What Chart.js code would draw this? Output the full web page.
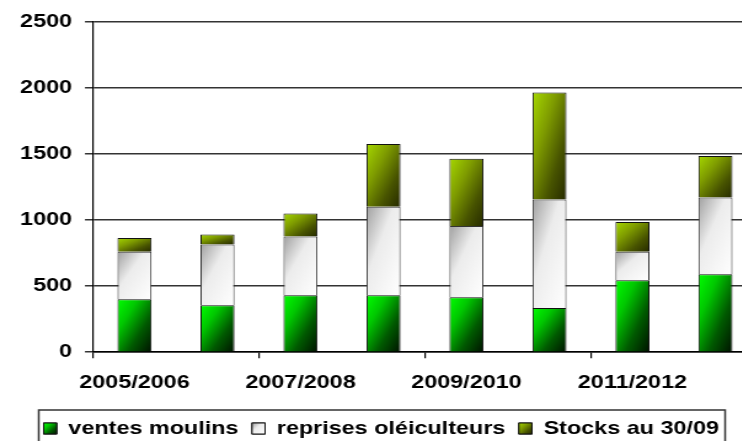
<!DOCTYPE html>
<html>
<head>
<meta charset="utf-8">
<script src="https://cdn.jsdelivr.net/npm/chart.js@4.4.1/dist/chart.umd.min.js"></script>
<style>
  html, body { margin: 0; padding: 0; background: #fff; overflow: hidden; width: 742px; height: 441px; }
  /* the source picture is stretched sideways, so the whole chart is too */
  #wrap { width: 632px; height: 448px; transform: scaleX(1.23); transform-origin: 0 0; }
</style>
</head>
<body>
<div id="wrap"><canvas id="stockChart" width="632" height="448"></canvas></div>
<script>
// campaigns
const categories = ['2005/2006', '2006/2007', '2007/2008', '2008/2009', '2009/2010', '2010/2011', '2011/2012', '2012/2013'];
// series (stacked, bottom to top)
const ventesMoulins = [400, 355, 430, 430, 415, 335, 545, 590];
const reprisesOleiculteurs = [360, 460, 445, 670, 540, 820, 215, 580];
const stocks3009 = [105, 75, 175, 475, 510, 810, 225, 315];
const yTicks = [0, 500, 1000, 1500, 2000, 2500];

const series = [ventesMoulins, reprisesOleiculteurs, stocks3009];
const BAR_PCT = 0.41;
const FONT = { family: 'Liberation Sans', size: 19, weight: 'bold' };

const greenStops = [[0, '#00ff00'], [0.3, '#00c800'], [0.65, '#005a00'], [1, '#001200']];
const whiteStops = [[0, '#a0a0a0'], [0.4, '#ececec'], [1, '#ffffff']];
const oliveStops = [[0, '#a6d800'], [0.35, '#7f9c00'], [0.7, '#485400'], [1, '#262a00']];

function makeGradient(c, left, top, w, h, stops) {
  // diagonal gradient, corner to corner like the office fill
  const t = 2 * w * h / (h * h + w * w);
  const g = c.createLinearGradient(left, top, left + t * h, top + t * w);
  stops.forEach(s => g.addColorStop(s[0], s[1]));
  return g;
}

function barFill(stops, fallback) {
  return function (ctx) {
    const chart = ctx.chart;
    const xs = chart.scales.x, ys = chart.scales.y;
    if (ctx.type !== 'data' || !chart.chartArea || !xs || !ys) return fallback;
    const i = ctx.dataIndex, d = ctx.datasetIndex;
    let base = 0;
    for (let k = 0; k < d; k++) base += series[k][i];
    const top = base + series[d][i];
    const w = xs.width / categories.length * BAR_PCT;
    const left = xs.getPixelForValue(i) - w / 2;
    const yt = ys.getPixelForValue(top), yb = ys.getPixelForValue(base);
    const h = yb - yt;
    if (![left, w, yt, h].every(Number.isFinite) || h <= 0 || w <= 0) return fallback;
    return makeGradient(chart.ctx, left, yt, w, h, stops);
  };
}

// frame around the legend + gradient legend squares
const legendFrame = {
  id: 'legendFrame',
  afterDraw(chart) {
    const lg = chart.legend;
    if (!lg || !lg.legendHitBoxes.length) return;
    const c = chart.ctx;
    const hb = lg.legendHitBoxes;
    const l = Math.min(...hb.map(b => b.left)) - 4;
    const r = Math.max(...hb.map(b => b.left + b.width)) + 5;
    const t = hb[0].top - 9;
    c.save();
    c.strokeStyle = '#333';
    c.lineWidth = 1.5;
    c.strokeRect(l, t, r - l, chart.height + 10 - t);
    const allStops = [greenStops, whiteStops, oliveStops];
    const bw = lg.options.labels.boxWidth, bh = lg.options.labels.boxHeight;
    hb.forEach((b, k) => {
      const y0 = b.top + (b.height - bh) / 2;
      c.fillStyle = makeGradient(c, b.left, y0, bw, bh, allStops[k]);
      c.fillRect(b.left, y0, bw, bh);
      c.strokeStyle = '#111';
      c.lineWidth = 1;
      c.strokeRect(b.left, y0, bw, bh);
    });
    c.restore();
  }
};

const fallbackColors = ['#00a000', '#eeeeee', '#6f8a00'];
const labelNames = ['ventes moulins', 'reprises oléiculteurs', 'Stocks au 30/09'];

const ctx = document.getElementById('stockChart').getContext('2d');
const stockChart = new Chart(ctx, {
  type: 'bar',
  data: {
    labels: categories,
    datasets: [{
      label: labelNames[0],
      data: ventesMoulins,
      backgroundColor: barFill(greenStops, fallbackColors[0]),
      borderColor: '#111',
      borderWidth: 1
    }, {
      label: labelNames[1],
      data: reprisesOleiculteurs,
      backgroundColor: barFill(whiteStops, fallbackColors[1]),
      borderColor: '#333',
      borderWidth: 1
    }, {
      label: labelNames[2],
      data: stocks3009,
      backgroundColor: barFill(oliveStops, fallbackColors[2]),
      borderColor: '#111',
      borderWidth: 1
    }]
  },
  plugins: [legendFrame],
  options: {
    responsive: false,
    animation: false,
    layout: { padding: { left: 4.6, right: 16.6, top: 20, bottom: 0 } },
    datasets: { bar: { barPercentage: BAR_PCT, categoryPercentage: 1 } },
    plugins: {
      tooltip: { enabled: false },
      legend: {
        position: 'bottom',
        labels: {
          boxWidth: 10.6,
          boxHeight: 11,
          padding: 11,
          color: '#000',
          font: FONT,
          generateLabels: () => labelNames.map((t, k) => ({
            text: t, fillStyle: fallbackColors[k], strokeStyle: '#111', lineWidth: 1, hidden: false, datasetIndex: k
          }))
        }
      }
    },
    scales: {
      x: {
        stacked: true,
        offset: true,
        border: { display: true, color: '#000', width: 1.5 },
        grid: {
          offset: true,
          drawOnChartArea: false,
          drawTicks: true,
          tickLength: 6,
          tickColor: c => (c.index % 2 === 0 ? '#000' : 'rgba(0,0,0,0)'),
          lineWidth: 1.2
        },
        ticks: {
          autoSkip: false,
          maxRotation: 0,
          padding: 12,
          color: '#000',
          font: Object.assign({}, FONT, { lineHeight: 1.36 }),
          callback: (v, i) => (i % 2 === 0 ? categories[i] : '')
        }
      },
      y: {
        stacked: true,
        min: 0,
        max: 2500,
        afterFit: s => { s.width = 71; },
        afterBuildTicks: s => { s.ticks = yTicks.map(v => ({ value: v })); },
        border: { display: true, color: '#000', width: 1.2 },
        grid: { color: '#333', lineWidth: 1.5, tickLength: 6.5 },
        ticks: { padding: 10.5, color: '#000', font: FONT, callback: v => String(v) }
      }
    }
  }
});
</script>
</body>
</html>
